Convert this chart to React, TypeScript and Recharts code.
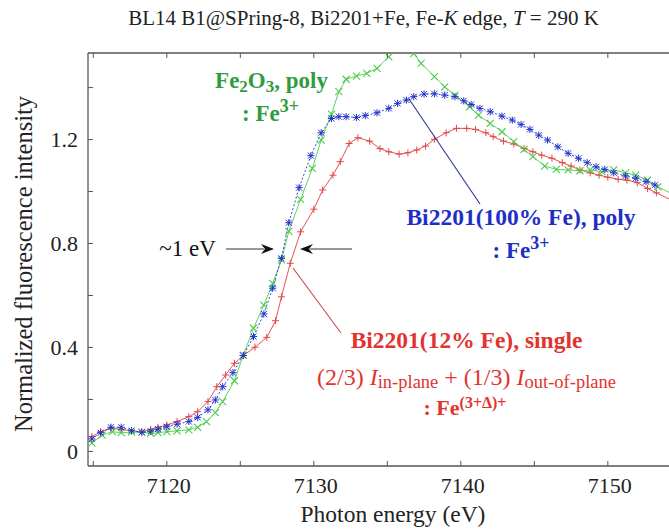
import { LineChart, Line, XAxis, YAxis, ReferenceLine } from "recharts";

const W = 669;
const H = 531;
const PLOT_TOP = 53;
const SERIF = "'Liberation Serif', Tinos, 'DejaVu Serif', 'Noto Serif', serif";
const AXIS = "#555";
const X_DOMAIN: [number, number] = [7114.64, 7154.16];
const Y_DOMAIN: [number, number] = [-0.056, 1.533];

// Fe2O3, poly (green, x markers)
const fe2o3Energy = [
  7114.9, 7115.6, 7116.3, 7116.9, 7117.6, 7118.3, 7118.9, 7119.4, 7120.0, 7120.7,
  7121.5, 7122.1, 7122.7, 7123.3, 7123.8, 7124.6, 7125.2, 7125.9, 7126.6, 7127.2,
  7127.8, 7128.3, 7129.1, 7129.9, 7130.5, 7131.2, 7131.7, 7132.2, 7132.9, 7133.6,
  7134.3, 7135.1, 7135.9, 7136.8, 7137.3, 7138.2, 7138.9, 7139.6, 7140.6, 7141.2,
  7142.0, 7142.8, 7143.6, 7144.3, 7144.9, 7145.7, 7146.5, 7147.3, 7148.1, 7148.8,
  7149.6, 7150.4, 7151.2, 7151.9, 7152.7, 7153.4, 7154.4,
];
const fe2o3Value = [
  0.032, 0.063, 0.076, 0.072, 0.074, 0.074, 0.07, 0.072, 0.076, 0.079,
  0.083, 0.093, 0.115, 0.149, 0.192, 0.272, 0.371, 0.474, 0.563, 0.647,
  0.737, 0.847, 0.97, 1.089, 1.198, 1.298, 1.384, 1.432, 1.444, 1.455,
  1.474, 1.518, 1.565, 1.531, 1.493, 1.442, 1.403, 1.371, 1.326, 1.294,
  1.262, 1.23, 1.192, 1.162, 1.134, 1.098, 1.085, 1.083, 1.08, 1.083,
  1.076, 1.083, 1.072, 1.063, 1.044, 1.018, 0.99,
];

// Bi2201(100% Fe), poly (blue, asterisks)
const fe100Energy = [
  7114.9, 7115.5, 7116.2, 7116.9, 7117.6, 7118.3, 7118.9, 7119.4, 7120.0, 7120.7,
  7121.5, 7122.1, 7122.8, 7123.3, 7123.8, 7124.5, 7125.2, 7125.9, 7126.6, 7127.2,
  7127.8, 7128.3, 7129.0, 7129.8, 7130.5, 7131.2, 7131.7, 7132.2, 7132.9, 7133.5,
  7134.3, 7135.1, 7135.7, 7136.3, 7136.8, 7137.5, 7138.2, 7138.9, 7139.6, 7140.2,
  7140.7, 7141.3, 7142.0, 7142.8, 7143.5, 7144.1, 7144.7, 7145.3, 7145.9, 7146.6,
  7147.3, 7148.0, 7148.6, 7149.2, 7149.8, 7150.4, 7151.2, 7151.9, 7152.6, 7153.2,
];
const fe100Value = [
  0.048, 0.072, 0.093, 0.093, 0.08, 0.074, 0.078, 0.086, 0.095, 0.105,
  0.115, 0.131, 0.16, 0.198, 0.249, 0.303, 0.369, 0.442, 0.529, 0.628,
  0.743, 0.88, 1.015, 1.138, 1.226, 1.281, 1.288, 1.288, 1.285, 1.292,
  1.303, 1.32, 1.339, 1.352, 1.365, 1.375, 1.376, 1.371, 1.365, 1.349,
  1.335, 1.32, 1.307, 1.29, 1.275, 1.258, 1.239, 1.217, 1.198, 1.172,
  1.147, 1.128, 1.111, 1.095, 1.085, 1.072, 1.06, 1.051, 1.038, 1.025,
];

// Bi2201(12% Fe), single (red, plus markers)
const fe12Energy = [
  7114.9, 7115.5, 7116.2, 7116.9, 7117.6, 7118.3, 7118.9, 7119.4, 7120.0, 7120.7,
  7121.5, 7122.1, 7122.8, 7123.4, 7124.0, 7124.6, 7125.2, 7126.0, 7126.8, 7127.4,
  7127.8, 7128.4, 7129.1, 7130.0, 7130.6, 7131.3, 7131.8, 7132.4, 7133.0, 7133.8,
  7134.5, 7135.1, 7135.8, 7136.4, 7137.0, 7137.6, 7138.2, 7139.0, 7139.7, 7140.4,
  7141.0, 7141.7, 7142.2, 7142.9, 7143.6, 7144.3, 7144.9, 7145.5, 7146.2, 7146.9,
  7147.5, 7148.1, 7148.8, 7149.4, 7150.0, 7150.7, 7151.3, 7152.0, 7152.7, 7153.3,
  7154.4,
];
const fe12Value = [
  0.057, 0.076, 0.089, 0.085, 0.079, 0.076, 0.085, 0.093, 0.102, 0.115,
  0.134, 0.153, 0.192, 0.249, 0.294, 0.339, 0.369, 0.401, 0.439, 0.503,
  0.595, 0.724, 0.845, 0.932, 1.006, 1.063, 1.115, 1.185, 1.207, 1.194,
  1.165, 1.153, 1.144, 1.149, 1.16, 1.175, 1.201, 1.226, 1.243, 1.243,
  1.239, 1.226, 1.211, 1.194, 1.183, 1.166, 1.153, 1.14, 1.128, 1.111,
  1.098, 1.083, 1.072, 1.063, 1.055, 1.047, 1.044, 1.034, 1.012, 0.995,
  0.965,
];

const xTicks = [7115, 7120, 7125, 7130, 7135, 7140, 7145, 7150];
const xLabels = [7120, 7130, 7140, 7150];
const yTicks = [0, 0.2, 0.4, 0.6, 0.8, 1.0, 1.2, 1.4];
const yLabels = [0, 0.4, 0.8, 1.2];

const rows = (e: number[], v: number[]) => e.map((x, i) => ({ e: x, v: v[i] }));

const txt = { fontFamily: SERIF };

// bottom tick also draws its mirror on the top frame
function BottomTick(props: any) {
  const { x, y, payload } = props;
  return (
    <g>
      <line x1={x} x2={x} y1={y} y2={y - 5} stroke={AXIS} strokeWidth={1} />
      <line x1={x} x2={x} y1={PLOT_TOP} y2={PLOT_TOP + 5} stroke={AXIS} strokeWidth={1} />
      {xLabels.includes(payload.value) && (
        <text x={x + 2} y={y + 27} textAnchor="middle" fontSize={22} style={txt} fill="#222">
          {payload.value}
        </text>
      )}
    </g>
  );
}

function LeftTick(props: any) {
  const { x, y, payload } = props;
  const show = yLabels.some((l) => Math.abs(l - payload.value) < 1e-6);
  return (
    <g>
      <line x1={x} x2={x + 5} y1={y} y2={y} stroke={AXIS} strokeWidth={1} />
      {show && (
        <text x={x - 10} y={y} dy="0.35em" textAnchor="end" fontSize={22} style={txt} fill="#222">
          {payload.value === 0 ? "0" : payload.value.toFixed(1)}
        </text>
      )}
    </g>
  );
}

const crossDot = (p: any) => {
  const { cx, cy, index } = p;
  const s = 3.5;
  return (
    <g key={`g${index}`} stroke="#4ccb4c" strokeWidth={1.1}>
      <line x1={cx - s} y1={cy - s} x2={cx + s} y2={cy + s} />
      <line x1={cx - s} y1={cy + s} x2={cx + s} y2={cy - s} />
    </g>
  );
};

const starDot = (p: any) => {
  const { cx, cy, index } = p;
  const s = 3;
  return (
    <g key={`b${index}`} stroke="#2233cc" strokeWidth={1}>
      <line x1={cx - s} y1={cy - s} x2={cx + s} y2={cy + s} />
      <line x1={cx - s} y1={cy + s} x2={cx + s} y2={cy - s} />
      <line x1={cx - s - 0.6} y1={cy} x2={cx + s + 0.6} y2={cy} />
      <line x1={cx} y1={cy - s - 0.6} x2={cx} y2={cy + s + 0.6} />
    </g>
  );
};

const plusDot = (p: any) => {
  const { cx, cy, index } = p;
  const s = 3.5;
  return (
    <g key={`r${index}`} stroke="#e04545" strokeWidth={1}>
      <line x1={cx - s} y1={cy} x2={cx + s} y2={cy} />
      <line x1={cx} y1={cy - s} x2={cx} y2={cy + s} />
    </g>
  );
};

function Arrow({ tip, y, dir }: { tip: number; y: number; dir: number }) {
  const b = tip - dir * 13;
  const n = tip - dir * 9;
  return <path d={`M${tip},${y} L${b},${y - 5} L${n},${y} L${b},${y + 5} Z`} fill="#111" />;
}

function Overlay() {
  const green = "#2f9d3d";
  const blue = "#1f2fc6";
  const red = "#e2332f";
  return (
    <svg width={W} height={H} style={{ position: "absolute", left: 0, top: 0, pointerEvents: "none", fontFamily: SERIF }}>
      <text x={363.5} y={25} textAnchor="middle" fontSize={21} fill="#222">
        BL14 B1@SPring-8, Bi2201+Fe, Fe-<tspan fontStyle="italic">K</tspan> edge,{" "}
        <tspan fontStyle="italic">T</tspan> = 290 K
      </text>
      <text x={393} y={522} textAnchor="middle" fontSize={23.5} fill="#222">
        Photon energy (eV)
      </text>
      <text transform="translate(32,264) rotate(-90)" textAnchor="middle" fontSize={24.5} fill="#222">
        Normalized fluorescence intensity
      </text>

      <text x={271.5} y={88} textAnchor="middle" fontSize={23} fontWeight="bold" fill={green}>
        Fe<tspan fontSize={17} dy={4}>2</tspan>
        <tspan dy={-4}>O</tspan>
        <tspan fontSize={17} dy={4}>3</tspan>
        <tspan dy={-4}>, poly</tspan>
      </text>
      <text x={270.5} y={121} textAnchor="middle" fontSize={23} fontWeight="bold" fill={green}>
        : Fe<tspan fontSize={18} dy={-9}>3+</tspan>
      </text>

      <text x={187.5} y={256} textAnchor="middle" fontSize={23} fill="#111">
        ~1 eV
      </text>
      <line x1={226} y1={249} x2={264} y2={249} stroke="#333" strokeWidth={1} />
      <Arrow tip={274} y={249} dir={1} />
      <line x1={310} y1={249} x2={352} y2={249} stroke="#333" strokeWidth={1} />
      <Arrow tip={300} y={249} dir={-1} />

      <line x1={409} y1={99} x2={480} y2={204} stroke="#2a3596" strokeWidth={1.1} />
      <text x={521} y={225} textAnchor="middle" fontSize={23.5} fontWeight="bold" fill={blue}>
        Bi2201(100% Fe), poly
      </text>
      <text x={521} y={258} textAnchor="middle" fontSize={23} fontWeight="bold" fill={blue}>
        : Fe<tspan fontSize={18} dy={-9}>3+</tspan>
      </text>

      <line x1={293} y1={268} x2={341} y2={333} stroke="#c94a4a" strokeWidth={1.1} />
      <text x={466.5} y={348} textAnchor="middle" fontSize={23.5} fontWeight="bold" fill={red}>
        Bi2201(12% Fe), single
      </text>
      <text x={466.5} y={385} textAnchor="middle" fontSize={24} fill={red}>
        (2/3) <tspan fontStyle="italic">I</tspan>
        <tspan fontSize={18.5} dy={3}>in-plane</tspan>
        <tspan dy={-3}> + (1/3) </tspan>
        <tspan fontStyle="italic">I</tspan>
        <tspan fontSize={18.5} dy={3}>out-of-plane</tspan>
      </text>
      <text x={465} y={415} textAnchor="middle" fontSize={22} fontWeight="bold" fill={red}>
        : Fe<tspan fontSize={16} dy={-7}>(3+Δ)+</tspan>
      </text>
    </svg>
  );
}

export default function App() {
  return (
    <div style={{ position: "absolute", left: 0, top: 0, width: W, height: H, background: "#fff" }}>
      <LineChart width={W} height={H} margin={{ top: PLOT_TOP, right: 0, bottom: 5, left: 28 }}>
        <XAxis
          xAxisId="b"
          dataKey="e"
          type="number"
          domain={X_DOMAIN}
          allowDataOverflow
          ticks={xTicks}
          interval={0}
          height={60}
          tickSize={0}
          tickMargin={0}
          tickLine={false}
          tick={<BottomTick />}
          axisLine={{ stroke: AXIS, strokeWidth: 1.3 }}
        />
        <YAxis
          type="number"
          domain={Y_DOMAIN}
          allowDataOverflow
          ticks={yTicks}
          interval={0}
          width={60}
          tickSize={0}
          tickMargin={0}
          tickLine={false}
          tick={<LeftTick />}
          axisLine={{ stroke: AXIS, strokeWidth: 1.3 }}
        />
        {/* top frame */}
        <ReferenceLine xAxisId="b" y={Y_DOMAIN[1]} stroke={AXIS} strokeWidth={1.3} />
        <Line
          xAxisId="b"
          data={rows(fe12Energy, fe12Value)}
          dataKey="v"
          type="linear"
          stroke="#e85252"
          strokeWidth={1}
          dot={plusDot}
          activeDot={false}
          isAnimationActive={false}
        />
        <Line
          xAxisId="b"
          data={rows(fe2o3Energy, fe2o3Value)}
          dataKey="v"
          type="linear"
          stroke="#5fd35f"
          strokeWidth={1}
          dot={crossDot}
          activeDot={false}
          isAnimationActive={false}
        />
        <Line
          xAxisId="b"
          data={rows(fe100Energy, fe100Value)}
          dataKey="v"
          type="linear"
          stroke="#3344dd"
          strokeWidth={1}
          strokeDasharray="2 2"
          dot={starDot}
          activeDot={false}
          isAnimationActive={false}
        />
      </LineChart>
      <Overlay />
    </div>
  );
}
